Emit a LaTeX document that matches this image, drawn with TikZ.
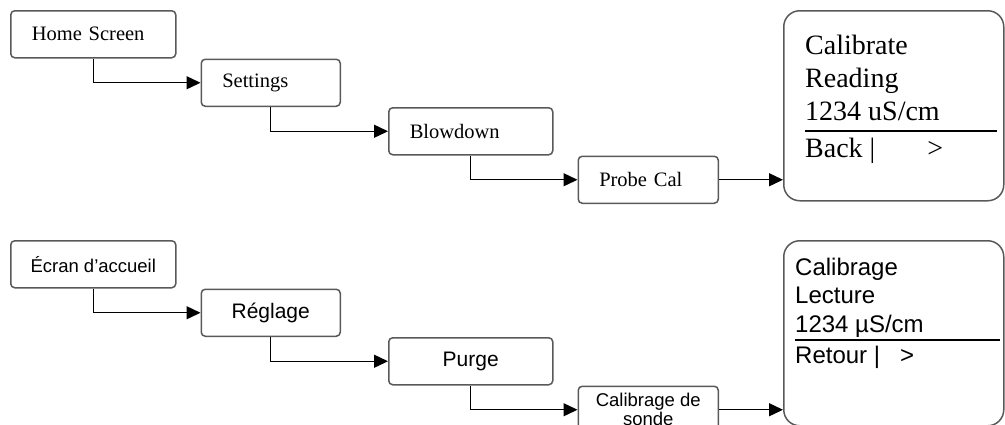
\documentclass[tikz,border=0pt]{standalone}
\usepackage{fontspec}
\setmainfont{Liberation Serif}
\setsansfont{Liberation Sans}
\usetikzlibrary{positioning,arrows.meta}

\begin{document}
\begin{tikzpicture}[x=1pt, y=-1pt,
  box/.style={rectangle, draw=black!65, line width=1.5pt, rounded corners=4pt, minimum height=47pt, inner sep=0pt},
  enbox/.style={box, inner xsep=21pt, align=left, font=\fontsize{20.5}{24}\selectfont},
  frbox/.style={box, align=center, font=\sffamily\fontsize{21}{24}\selectfont},
  screen/.style={rectangle, draw=black!65, line width=1.5pt, rounded corners=16pt, minimum width=220pt, minimum height=190pt, anchor=north west, inner sep=0pt},
  link/.style={-{Triangle[length=14pt,width=13pt]}, line width=1.4pt}]
  \useasboundingbox (0,0) rectangle (1005,424);
  \clip (0,0) rectangle (1005,424);

  % English menu path
  \node[enbox, anchor=north west, text width=123pt] (home) at (10,10) {Home Screen};
  \node[enbox, below right=0pt and 24pt of home.south east, text width=97pt] (settings) {Settings};
  \node[enbox, below right=0pt and 47pt of settings.south east, text width=122pt] (blowdown) {Blowdown};
  \node[enbox, below right=0pt and 24pt of blowdown.south east, text width=98pt] (probecal) {Probe Cal};
  \node[screen] (calen) at (783,10) {};
  \node[anchor=base west, align=left, inner sep=0pt, font=\fontsize{28}{33}\selectfont] (readen) at (805,120) {Calibrate\\Reading\\1234 uS/cm};
  \draw[line width=2.5pt] (805,131) -- (997,131);
  \node[anchor=base west, inner sep=0pt, font=\fontsize{28}{33}\selectfont] (backen) at (805,157) {Back |\hspace{52pt}>};
  \draw[link] (home.south) |- (settings.west);
  \draw[link] (settings.south) |- (blowdown.west);
  \draw[link] (blowdown.south) |- (probecal.west);
  \draw[link] (probecal.east) -- (probecal.east -| calen.west);

  % French menu path
  \node[frbox, anchor=north west, minimum width=165pt, font=\sffamily\fontsize{18.5}{20}\selectfont] (accueil) at (10,240) {Écran d’accueil};
  \node[frbox, below right=0pt and 24pt of accueil.south east, minimum width=139pt] (reglage) {Réglage};
  \node[frbox, below right=0pt and 47pt of reglage.south east, minimum width=164pt] (purge) {Purge};
  \node[frbox, below right=0pt and 24pt of purge.south east, minimum width=140pt, font=\sffamily\fontsize{18.5}{19}\selectfont] (sonde) {Calibrage de\\sonde};
  \node[screen, minimum height=185pt] (calfr) at (783,240) {};
  \node[anchor=base west, align=left, inner sep=0pt, font=\sffamily\fontsize{24}{28.5}\selectfont] (readfr) at (795,332) {Calibrage\\Lecture\\1234 µS/cm};
  \draw[line width=2pt] (795,340) -- (1000,340);
  \node[anchor=base west, inner sep=0pt, font=\sffamily\fontsize{24}{28.5}\selectfont] (backfr) at (795,363) {Retour |\hspace{20pt}>};
  \draw[link] (accueil.south) |- (reglage.west);
  \draw[link] (reglage.south) |- (purge.west);
  \draw[link] (purge.south) |- (sonde.west);
  \draw[link] (sonde.east) -- (sonde.east -| calfr.west);
\end{tikzpicture}
\end{document}
